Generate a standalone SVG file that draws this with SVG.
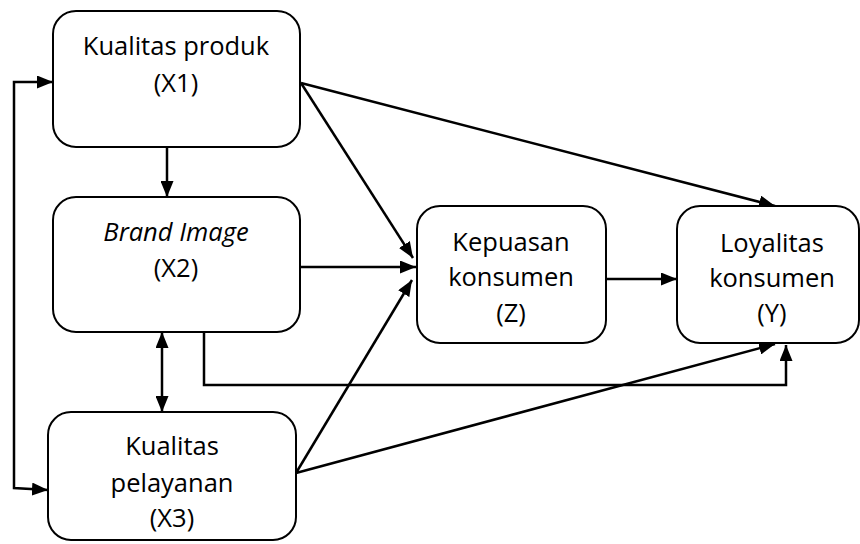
<svg xmlns="http://www.w3.org/2000/svg" width="860" height="544" viewBox="0 0 860 544">
<defs>
<style>
.box{fill:#fff;stroke:#000;stroke-width:2}
.t{font-family:"Open Sans","Noto Sans",sans-serif;font-size:25.5px;fill:#000;text-anchor:middle}
.c{fill:none;stroke:#000;stroke-width:2.5}
</style>
<marker id="ah" viewBox="0 0 16 13" refX="16" refY="6.5" markerWidth="16" markerHeight="13" markerUnits="userSpaceOnUse" orient="auto-start-reverse">
<path d="M0,0 L16,6.5 L0,13 Z" fill="#000"/>
</marker>
</defs>
<rect width="860" height="544" fill="#fff"/>
<g id="connectors">
<path class="c" d="M167,147 L167,197" marker-end="url(#ah)"/>
<path class="c" d="M162,332 L162,412" marker-start="url(#ah)" marker-end="url(#ah)"/>
<path class="c" d="M53,82 L14,82 L14,488 L48,490" marker-start="url(#ah)" marker-end="url(#ah)"/>
<path class="c" d="M301,83 L413,258" marker-end="url(#ah)"/>
<path class="c" d="M301,83 L775,206" marker-end="url(#ah)"/>
<path class="c" d="M300,267 L416,267" marker-end="url(#ah)"/>
<path class="c" d="M296,473 L412,280" marker-end="url(#ah)"/>
<path class="c" d="M296,473 L775,344" marker-end="url(#ah)"/>
<path class="c" d="M606,279 L677,279" marker-end="url(#ah)"/>
<path class="c" d="M204,332 L204,385 L786,385 L786,345" marker-end="url(#ah)"/>
</g>
<g id="x1">
<rect class="box" x="53" y="11" width="247" height="136" rx="23"/>
<text class="t" x="176" y="55">Kualitas produk</text>
<text class="t" x="176" y="92">(X1)</text>
</g>
<g id="x2">
<rect class="box" x="53" y="197" width="247" height="135" rx="23"/>
<text class="t" x="176" y="241" font-style="italic">Brand Image</text>
<text class="t" x="176" y="277">(X2)</text>
</g>
<g id="x3">
<rect class="box" x="48" y="412" width="248" height="128" rx="23"/>
<text class="t" x="172" y="455">Kualitas</text>
<text class="t" x="172" y="492">pelayanan</text>
<text class="t" x="172" y="527">(X3)</text>
</g>
<g id="z">
<rect class="box" x="417" y="206" width="189" height="137" rx="23"/>
<text class="t" x="511" y="251">Kepuasan</text>
<text class="t" x="511" y="286">konsumen</text>
<text class="t" x="511" y="322">(Z)</text>
</g>
<g id="y">
<rect class="box" x="677" y="206" width="182" height="137" rx="23"/>
<text class="t" x="772" y="252">Loyalitas</text>
<text class="t" x="772" y="287">konsumen</text>
<text class="t" x="772" y="322">(Y)</text>
</g>
</svg>
